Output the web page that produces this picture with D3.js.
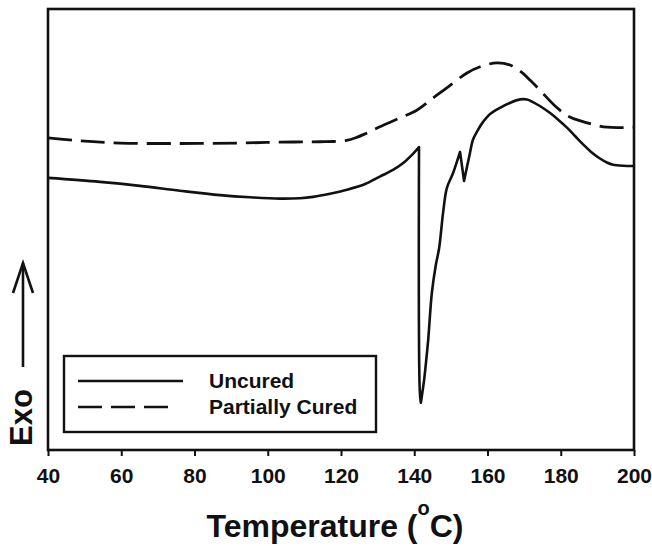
<!DOCTYPE html>
<html>
<head>
<meta charset="utf-8">
<script src="https://cdn.jsdelivr.net/npm/d3@7"></script>
<style>
  html, body { margin: 0; padding: 0; background: #fff; }
  svg { display: block; }
  text { font-family: "Liberation Sans", Arial, Helvetica, sans-serif; font-weight: bold; fill: #111; }
</style>
</head>
<body>
<svg id="chart" width="652" height="546"></svg>
<script>
// ---- data ----
const xTicks = [40, 60, 80, 100, 120, 140, 160, 180, 200];
const seriesNames = ["Uncured", "Partially Cured"];

// Uncured DSC trace: temperature (°C) and heat flow (arbitrary units, exo up)
const uncuredT = [40, 54.2, 65.1, 76.0, 87.0, 95.2, 103.3, 108.8, 112.4, 117.0, 121.6, 126.6, 130.6, 134.2,
  136.9, 139.1, 141.3, 141.5, 141.8, 142.4, 142.7, 143.1, 143.8, 144.8, 145.9, 146.8, 147.9, 148.9, 150.6,
  152.5, 153.0, 153.6, 154.4, 155.2, 156.0, 157.4, 158.8, 160.7, 163.4, 166.1, 168.9, 170.8, 172.4, 174.3,
  177.1, 179.3, 181.7, 183.9, 186.1, 188.3, 190.7, 192.6, 194.3, 197.0, 200];
const uncuredV = [61.7, 60.8, 59.9, 58.8, 57.8, 57.3, 57.0, 57.1, 57.4, 58.1, 59.0, 60.3, 62.0, 63.5,
  65.0, 66.7, 68.7, 13.6, 10.7, 14.1, 15.9, 19.0, 24.9, 35.6, 42.0, 45.8, 54.0, 59.4, 62.8,
  67.6, 64.6, 61.0, 64.2, 67.3, 70.3, 72.6, 74.4, 76.2, 77.6, 78.7, 79.5, 79.5, 78.9, 78.0,
  76.4, 74.9, 73.1, 71.2, 69.3, 67.6, 66.1, 65.2, 64.7, 64.45, 64.4];
// sharp corners in the uncured trace (peak / trough temperatures)
const uncuredCorners = [141.3, 141.8, 152.5, 153.6];

// Partially cured DSC trace
const partialT = [40, 48.7, 59.7, 76.0, 92.4, 103.3, 114.3, 118.0, 121.5, 124.0, 126.6, 130.6, 136.1, 140.8, 145.1,
  148.9, 154.4, 158.0, 162.6, 166.1, 168.9, 171.6, 174.3, 179.0, 182.5, 187.2, 192.6, 200];
const partialV = [70.8, 70.1, 69.6, 69.5, 69.6, 69.8, 69.9, 69.95, 70.2, 70.8, 71.7, 73.3, 75.3, 77.1, 79.8,
  82.1, 85.5, 86.9, 87.8, 87.3, 85.9, 83.9, 81.6, 77.6, 75.5, 74.2, 73.2, 73.2];

// ---- layout ----
const svg = d3.select("#chart");
const L = 48, R = 634, T = 9, B = 450;
const x = d3.scaleLinear().domain([40, 200]).range([L, R]);
const y = d3.scaleLinear().domain([0, 100]).range([B, T]);

const line = d3.line().x(d => x(d[0])).y(d => y(d[1])).curve(d3.curveCatmullRom.alpha(0.5));
const uncured = uncuredT.map((t, i) => [t, uncuredV[i]]);
const partial = partialT.map((t, i) => [t, partialV[i]]);

// build a smooth path that keeps sharp corners at the given x values
function cornerPath(pts, corners) {
  const segs = [];
  let cur = [];
  pts.forEach(p => {
    cur.push(p);
    if (corners.includes(p[0])) { segs.push(cur); cur = [p]; }
  });
  if (cur.length > 1) segs.push(cur);
  return segs.map((s, i) => {
    const d = s.length > 2 ? line(s) : d3.line().x(p => x(p[0])).y(p => y(p[1]))(s);
    return i === 0 ? d : d.replace(/^M[^A-Za-z]*/, "");
  }).join("");
}

// curves
svg.append("path").datum(partial).attr("d", line)
  .attr("fill", "none").attr("stroke", "#111").attr("stroke-width", 2.8)
  .attr("stroke-dasharray", "24,9");
svg.append("path").attr("d", cornerPath(uncured, uncuredCorners))
  .attr("fill", "none").attr("stroke", "#111").attr("stroke-width", 2.6)
  .attr("stroke-linejoin", "round");

// frame
svg.append("rect").attr("x", L).attr("y", T).attr("width", R - L).attr("height", B - T)
  .attr("fill", "none").attr("stroke", "#111").attr("stroke-width", 2.6);

// x axis
const xAxis = d3.axisBottom(x).tickValues(xTicks).tickSize(6).tickSizeOuter(0).tickPadding(12)
  .tickFormat(d3.format("d"));
const gx = svg.append("g").attr("transform", `translate(0,${B})`).call(xAxis);
gx.select(".domain").remove();
gx.selectAll(".tick line").attr("stroke", "#111").attr("stroke-width", 2);
gx.selectAll(".tick text").attr("font-size", 21).attr("font-family", "Liberation Sans, Arial, sans-serif")
  .attr("font-weight", "bold").attr("fill", "#111");

// x axis title
const title = svg.append("text").attr("x", 335).attr("y", 537).attr("text-anchor", "middle")
  .attr("font-size", 32);
title.append("tspan").text("Temperature (");
title.append("tspan").text("o").attr("font-size", 20).attr("dy", -22);
title.append("tspan").text("C)").attr("dy", 22);

// y axis label with arrow
svg.append("text").attr("transform", "translate(32,446) rotate(-90)").attr("font-size", 31).text("Exo");
svg.append("line").attr("x1", 23).attr("x2", 23).attr("y1", 263).attr("y2", 367)
  .attr("stroke", "#111").attr("stroke-width", 2.6);
svg.append("path").attr("d", "M13,293 L23,263 L33,293")
  .attr("fill", "none").attr("stroke", "#111").attr("stroke-width", 2.6);

// legend
const lg = svg.append("g");
lg.append("rect").attr("x", 64).attr("y", 356).attr("width", 312).attr("height", 76)
  .attr("fill", "#fff").attr("stroke", "#111").attr("stroke-width", 2.4);
const legendRows = [{ name: seriesNames[0], dash: null, y: 381, x2: 183 },
                    { name: seriesNames[1], dash: "24,9", y: 407, x2: 173 }];
legendRows.forEach(r => {
  const ln = lg.append("line").attr("x1", 78).attr("x2", r.x2).attr("y1", r.y).attr("y2", r.y)
    .attr("stroke", "#111").attr("stroke-width", 2.6);
  if (r.dash) ln.attr("stroke-dasharray", r.dash);
  lg.append("text").attr("x", 209).attr("y", r.y + 7).attr("font-size", 21).text(r.name);
});
</script>
</body>
</html>
